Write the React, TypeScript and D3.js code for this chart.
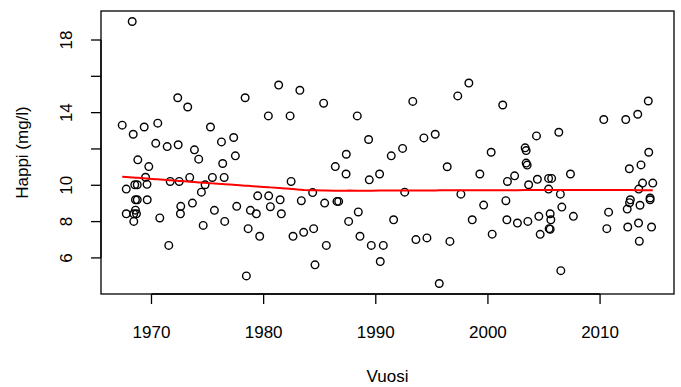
import React from "react";
import * as d3 from "d3";

const years: number[] = [
  1968.28, 1972.34, 1973.23, 1978.35, 1981.34, 1983.23, 1967.39, 1968.37, 1969.35, 1970.56,
  1975.26, 1980.42, 1982.36, 1970.38, 1971.40, 1972.38, 1973.83, 1976.24, 1977.33, 1974.21,
  1976.35, 1977.48, 1968.78, 1969.76, 1969.47, 1969.60, 1967.75, 1968.51, 1968.73, 1971.67,
  1972.47, 1973.41, 1975.43, 1976.48, 1974.78, 1974.45, 1982.45, 1968.57, 1968.73, 1969.62,
  1979.47, 1980.45, 1981.47, 1983.36, 1973.65, 1972.61, 1977.60, 1980.60, 1968.57, 1967.75,
  1968.42, 1968.66, 1972.58, 1975.61, 1978.82, 1979.35, 1981.58, 1968.42, 1970.74, 1974.61,
  1976.53, 1978.62, 1979.65, 1982.62, 1971.54, 1978.46,
  1985.35, 1988.35, 1993.30, 1997.31, 1998.30, 1989.36, 1992.39, 1994.29, 1995.30, 1987.37,
  1991.38, 1986.39, 1987.35, 1989.42, 1990.34, 1996.37, 1999.28, 2000.29, 1984.37, 1985.44,
  1986.54, 1986.69, 1992.58, 1997.59, 1999.62, 1988.44, 1987.58, 1991.59, 1998.60, 1983.57,
  1984.46, 1985.59, 1988.59, 1989.60, 1990.67, 1993.58, 1994.56, 1996.61, 2000.38, 1984.58,
  1990.40, 1995.66,
  2001.32, 2010.33, 2012.29, 2013.36, 2014.30, 2004.33, 2006.32, 2003.32, 2003.41, 2014.34,
  2003.41, 2003.50, 2002.38, 2001.74, 2003.63, 2004.41, 2005.41, 2005.68, 2005.41, 2006.46,
  2007.36, 2012.61, 2013.65, 2013.79, 2014.70, 2013.45, 2014.46, 2014.46, 2012.70, 2012.63,
  2012.42, 2013.56, 2001.60, 2006.59, 2001.69, 2002.63, 2003.56, 2004.54, 2005.55, 2005.61,
  2007.62, 2010.76, 2004.66, 2005.46, 2005.55, 2010.60, 2012.47, 2013.43, 2014.59, 2013.50,
  2006.50,
];

const oxygen: number[] = [
  19.02, 14.82, 14.31, 14.82, 15.52, 15.23, 13.31, 12.81, 13.21, 13.42,
  13.21, 13.82, 13.82, 12.31, 12.13, 12.23, 11.95, 12.39, 12.63, 11.44,
  11.20, 11.62, 11.40, 11.03, 10.44, 10.05, 9.79, 10.03, 10.03, 10.21,
  10.21, 10.43, 10.43, 10.43, 10.03, 9.62, 10.21, 9.20, 9.20, 9.20,
  9.42, 9.42, 9.20, 9.15, 9.02, 8.84, 8.84, 8.82, 8.63, 8.43,
  8.43, 8.43, 8.43, 8.62, 8.62, 8.43, 8.43, 8.01, 8.20, 7.79,
  8.01, 7.61, 7.19, 7.19, 6.69, 5.01,
  14.52, 13.82, 14.62, 14.92, 15.63, 12.52, 12.03, 12.61, 12.81, 11.71,
  11.62, 11.03, 10.62, 10.30, 10.62, 11.02, 10.62, 11.82, 9.60, 9.02,
  9.11, 9.11, 9.62, 9.51, 8.91, 8.53, 8.01, 8.10, 8.10, 7.41,
  7.61, 6.69, 7.19, 6.69, 6.69, 7.01, 7.10, 6.91, 7.31, 5.62,
  5.80, 4.59,
  14.42, 13.62, 13.62, 13.91, 14.64, 12.72, 12.92, 12.06, 11.91, 11.82,
  11.22, 11.11, 10.52, 10.21, 10.03, 10.33, 10.38, 10.38, 9.79, 9.51,
  10.62, 10.91, 11.12, 10.12, 10.12, 9.79, 9.30, 9.20, 9.20, 9.04,
  8.69, 8.90, 9.15, 8.80, 8.10, 7.92, 8.01, 8.29, 8.43, 8.10,
  8.29, 8.52, 7.30, 7.61, 7.58, 7.61, 7.70, 7.92, 7.70, 6.92,
  5.30,
];

const xTicks: number[] = [1970, 1980, 1990, 2000, 2010];
const yTicks: number[] = [6, 8, 10, 12, 14, 16, 18];
const yTickLabels: string[] = ["6", "8", "10", "", "14", "", "18"];
const xTitle = "Vuosi";
const yTitle = "Happi (mg/l)";

function lowess(xIn: number[], yIn: number[], f = 2 / 3, nsteps = 3): [number, number][] {
  const idx = xIn.map((_, i) => i).sort((a, b) => xIn[a] - xIn[b]);
  const x = idx.map((i) => xIn[i]);
  const y = idx.map((i) => yIn[i]);
  const n = x.length;
  const delta = 0.01 * (x[n - 1] - x[0]);
  const ns = Math.max(2, Math.min(n, Math.floor(f * n + 1e-7)));
  const ys = new Array(n).fill(0);
  const rw = new Array(n).fill(1);
  const res = new Array(n).fill(0);
  const w = new Array(n).fill(0);
  const range = x[n - 1] - x[0];
  const lowest = (xs: number, nleft: number, nright: number, userw: boolean): number | null => {
    const h = Math.max(xs - x[nleft], x[nright] - xs);
    const h9 = 0.999 * h;
    const h1 = 0.001 * h;
    let a = 0;
    let j = nleft;
    while (j < n) {
      w[j] = 0;
      const r = Math.abs(x[j] - xs);
      if (r <= h9) {
        if (r <= h1) w[j] = 1;
        else w[j] = Math.pow(1 - Math.pow(r / h, 3), 3);
        if (userw) w[j] *= rw[j];
        a += w[j];
      } else if (x[j] > xs) break;
      j++;
    }
    const nrt = j - 1;
    if (a <= 0) return null;
    for (j = nleft; j <= nrt; j++) w[j] /= a;
    if (h > 0) {
      a = 0;
      for (j = nleft; j <= nrt; j++) a += w[j] * x[j];
      let b = xs - a;
      let c = 0;
      for (j = nleft; j <= nrt; j++) c += w[j] * (x[j] - a) * (x[j] - a);
      if (Math.sqrt(c) > 0.001 * range) {
        b /= c;
        for (j = nleft; j <= nrt; j++) w[j] *= b * (x[j] - a) + 1;
      }
    }
    let yv = 0;
    for (j = nleft; j <= nrt; j++) yv += w[j] * y[j];
    return yv;
  };
  for (let iter = 1; iter <= nsteps + 1; iter++) {
    let nleft = 0;
    let nright = ns - 1;
    let last = -1;
    let i = 0;
    for (;;) {
      while (nright < n - 1) {
        const d1 = x[i] - x[nleft];
        const d2 = x[nright + 1] - x[i];
        if (d1 <= d2) break;
        nleft++;
        nright++;
      }
      const v = lowest(x[i], nleft, nright, iter > 1);
      ys[i] = v === null ? y[i] : v;
      if (last < i - 1) {
        const denom = x[i] - x[last];
        for (let j = last + 1; j < i; j++) {
          const alpha = (x[j] - x[last]) / denom;
          ys[j] = alpha * ys[i] + (1 - alpha) * ys[last];
        }
      }
      last = i;
      const cut = x[last] + delta;
      for (i = last + 1; i < n; i++) {
        if (x[i] > cut) break;
        if (x[i] === x[last]) {
          ys[i] = ys[last];
          last = i;
        }
      }
      i = Math.max(last + 1, i - 1);
      if (last >= n - 1) break;
    }
    for (let k = 0; k < n; k++) res[k] = y[k] - ys[k];
    if (iter > nsteps) break;
    const ar = res.map((r) => Math.abs(r));
    const sorted = [...ar].sort((a, b) => a - b);
    const m1 = Math.floor(n / 2);
    const cmad = n % 2 === 0 ? 3 * (sorted[m1 - 1] + sorted[m1]) : 6 * sorted[m1];
    const c9 = 0.999 * cmad;
    const c1 = 0.001 * cmad;
    for (let k = 0; k < n; k++) {
      const r = ar[k];
      rw[k] = r <= c1 ? 1 : r <= c9 ? Math.pow(1 - Math.pow(r / cmad, 2), 2) : 0;
    }
  }
  return x.map((xv, k) => [xv, ys[k]] as [number, number]);
}

const W = 681;
const H = 387;
const box = { left: 101, right: 674, top: 11, bottom: 294 };
const FONT = "'Liberation Sans', Arial, Helvetica, sans-serif";
const FS = 17;

export default function App() {
  const [x0, x1] = d3.extent(years) as [number, number];
  const [y0, y1] = d3.extent(oxygen) as [number, number];
  const px = 0.04 * (x1 - x0);
  const py = 0.04 * (y1 - y0);
  const xScale = d3.scaleLinear().domain([x0 - px, x1 + px]).range([box.left, box.right]);
  const yScale = d3.scaleLinear().domain([y0 - py, y1 + py]).range([box.bottom, box.top]);
  const smooth = lowess(years, oxygen);
  const line = d3
    .line<[number, number]>()
    .x((d) => xScale(d[0]))
    .y((d) => yScale(d[1]));

  const tickLen = 10;
  return (
    <svg
      width={W}
      height={H}
      style={{ position: "absolute", left: 0, top: 0, background: "#fff" }}
      fontFamily={FONT}
    >
      <rect x={0} y={0} width={W} height={H} fill="#fff" />
      {years.map((yr, i) => (
        <circle
          key={i}
          cx={xScale(yr)}
          cy={yScale(oxygen[i])}
          r={3.8}
          fill="none"
          stroke="#000"
          strokeWidth={1.4}
        />
      ))}
      <path d={line(smooth) || ""} fill="none" stroke="#ff0000" strokeWidth={2} />
      <rect
        x={box.left}
        y={box.top}
        width={box.right - box.left}
        height={box.bottom - box.top}
        fill="none"
        stroke="#000"
        strokeWidth={1.3}
      />
      {/* x axis */}
      <line
        x1={xScale(xTicks[0])}
        x2={xScale(xTicks[xTicks.length - 1])}
        y1={box.bottom}
        y2={box.bottom}
        stroke="#000"
        strokeWidth={1.3}
      />
      {xTicks.map((t) => (
        <g key={t}>
          <line x1={xScale(t)} x2={xScale(t)} y1={box.bottom} y2={box.bottom + tickLen} stroke="#000" strokeWidth={1.3} />
          <text x={xScale(t)} y={337.5} textAnchor="middle" fontSize={FS} fill="#000">
            {t}
          </text>
        </g>
      ))}
      {/* y axis */}
      <line
        x1={box.left}
        x2={box.left}
        y1={yScale(yTicks[0])}
        y2={yScale(yTicks[yTicks.length - 1])}
        stroke="#000"
        strokeWidth={1.3}
      />
      {yTicks.map((t, i) => (
        <g key={t}>
          <line x1={box.left - tickLen} x2={box.left} y1={yScale(t)} y2={yScale(t)} stroke="#000" strokeWidth={1.3} />
          {yTickLabels[i] && (
            <text
              transform={`translate(${72},${yScale(t)}) rotate(-90)`}
              textAnchor="middle"
              fontSize={FS}
              fill="#000"
            >
              {yTickLabels[i]}
            </text>
          )}
        </g>
      ))}
      <text x={(box.left + box.right) / 2} y={381.5} textAnchor="middle" fontSize={FS} fill="#000">
        {xTitle}
      </text>
      <text
        transform={`translate(${28},${(box.top + box.bottom) / 2}) rotate(-90)`}
        textAnchor="middle"
        fontSize={FS}
        fill="#000"
      >
        {yTitle}
      </text>
    </svg>
  );
}
